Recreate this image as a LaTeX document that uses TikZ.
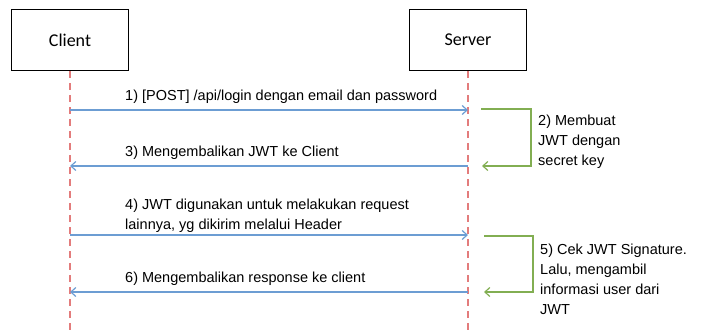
\documentclass[tikz,border=0pt]{standalone}
\usepackage{fontspec}
\setmainfont{Liberation Sans}
\newfontfamily\boxfont{Carlito}
\usetikzlibrary{arrows.meta}

\definecolor{lifered}{HTML}{E37C7C}
\definecolor{msgblue}{HTML}{6C9DD3}
\definecolor{selfgreen}{HTML}{82AE52}

\tikzset{
  actor/.style={draw, line width=1.4pt, minimum width=117pt, minimum height=61pt, inner sep=0pt,
    font=\boxfont\fontsize{18}{20}\selectfont},
  lifeline/.style={lifered, line width=1.2pt, dash pattern=on 7pt off 5pt},
  msg/.style={msgblue, line width=1.2pt, -{Straight Barb[length=5pt,width=9pt]}},
  selfmsg/.style={selfgreen, line width=1.2pt, -{Straight Barb[length=5pt,width=9pt]}},
  lbl/.style={inner sep=0pt, align=left, font=\fontsize{14.5}{20}\selectfont},
}

\begin{document}
\begin{tikzpicture}[x=1pt,y=-1pt]
\useasboundingbox (0,0) rectangle (704,334);

\node[actor] (client) at (70,40) {Client};
\node[actor] (server) at (468,40) {Server};

\coordinate (cend) at (70,334);
\coordinate (send) at (468,334);
\draw[lifeline] (client.south) -- (cend);
\draw[lifeline] (server.south) -- (send);


\coordinate (c1) at (70,110);
\coordinate (s1) at (468,110);
\draw[msg] (c1) -- (s1);
\node[lbl, anchor=west] (m1) at (125,97) {1) [POST] /api/login dengan email dan password};

\coordinate (g2a) at (481,109);
\coordinate (g2b) at (482,166);
\draw[selfmsg] (g2a) -- ++(50,0) |- (g2b);
\node[lbl, anchor=north west] (m2) at (538,115) {2) Membuat\\JWT dengan\\secret key};

\coordinate (s3) at (468,166);
\coordinate (c3) at (70,166);
\draw[msg] (s3) -- (c3);
\node[lbl, anchor=west] (m3) at (125,153) {3) Mengembalikan JWT ke Client};


\coordinate (c4) at (70,235);
\coordinate (s4) at (468,235);
\draw[msg] (c4) -- (s4);
\node[lbl, anchor=north west] (m4) at (125,199) {4) JWT digunakan untuk melakukan request\\lainnya, yg dikirim melalui Header};

\coordinate (g5a) at (484,236);
\coordinate (g5b) at (484,292);
\draw[selfmsg] (g5a) -- ++(49,0) |- (g5b);
\node[lbl, anchor=north west] (m5) at (540,244) {5) Cek JWT Signature.\\Lalu, mengambil\\informasi user dari\\JWT};

\coordinate (s6) at (468,292);
\coordinate (c6) at (70,292);
\draw[msg] (s6) -- (c6);
\node[lbl, anchor=west] (m6) at (125,279) {6) Mengembalikan response ke client};

\end{tikzpicture}
\end{document}
